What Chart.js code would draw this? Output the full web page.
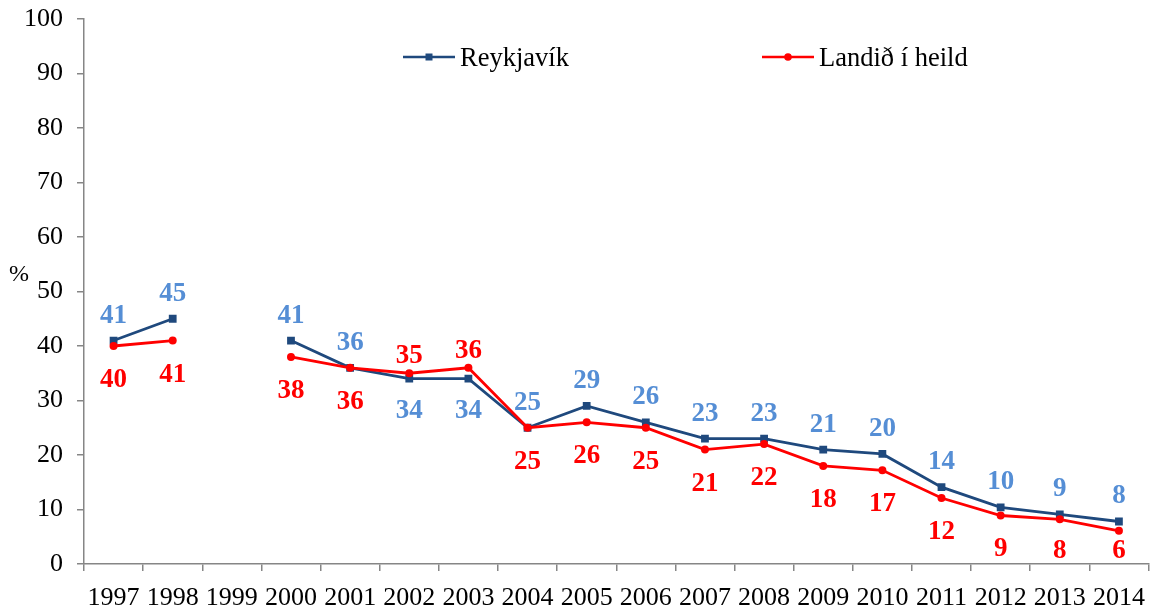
<!DOCTYPE html>
<html>
<head>
<meta charset="utf-8">
<script src="https://cdn.jsdelivr.net/npm/chart.js@4/dist/chart.umd.min.js"></script>
<style>
  html, body { margin: 0; padding: 0; background: #fff; }
  canvas { display: block; }
</style>
</head>
<body>
<canvas id="myChart" width="1154" height="607"></canvas>
<script>
  var years = ['1997', '1998', '1999', '2000', '2001', '2002', '2003', '2004', '2005',
               '2006', '2007', '2008', '2009', '2010', '2011', '2012', '2013', '2014'];
  var reykjavik = [41, 45, null, 41, 36, 34, 34, 25, 29, 26, 23, 23, 21, 20.2, 14.1, 10.4, 9.1, 7.8];
  var landid = [40, 41, null, 38, 36, 35, 36, 25, 26, 25, 21, 22, 18, 17.2, 12.1, 8.9, 8.2, 6.1];
  var yTicks = [0, 10, 20, 30, 40, 50, 60, 70, 80, 90, 100];

  var serif = "'Liberation Serif', 'Times New Roman', serif";
  var blue = '#1F497D', blueLabel = '#558ED5', red = '#FF0000', axisGrey = '#868686';

  // value labels, legend and the "%" caption
  var extras = {
    id: 'extras',
    afterDatasetsDraw: function(chart) {
      var ctx = chart.ctx, area = chart.chartArea;
      ctx.save();
      ctx.font = 'bold 27px ' + serif;
      ctx.textAlign = 'center';
      ctx.textBaseline = 'alphabetic';
      [0, 1].forEach(function(i) {
        var meta = chart.getDatasetMeta(i);
        var own = i === 0 ? reykjavik : landid;
        var other = i === 0 ? landid : reykjavik;
        meta.data.forEach(function(pt, j) {
          var v = own[j];
          if (v === null) return;
          var above = i === 0 ? v >= other[j] : v > other[j];
          var y;
          if (i === 0) y = above ? pt.y - 27 : pt.y + 30;
          else y = above ? pt.y - 19 : pt.y + 32;
          y = Math.min(y, area.bottom - 15);
          ctx.fillStyle = i === 0 ? blueLabel : red;
          ctx.fillText(String(Math.round(v)), pt.x, y + 9);
        });
      });

      // legend
      var items = [
        { text: 'Reykjavík', color: blue, style: 'rect', x: area.left + 319 },
        { text: 'Landið í heild', color: red, style: 'circle', x: area.left + 678 }
      ];
      var ly = area.top + 38;
      items.forEach(function(it) {
        ctx.strokeStyle = it.color;
        ctx.fillStyle = it.color;
        ctx.lineWidth = 2.5;
        ctx.beginPath();
        ctx.moveTo(it.x, ly);
        ctx.lineTo(it.x + 52, ly);
        ctx.stroke();
        ctx.beginPath();
        if (it.style === 'rect') ctx.rect(it.x + 26 - 3.5, ly - 3.5, 7, 7);
        else ctx.arc(it.x + 26, ly, 3.8, 0, Math.PI * 2);
        ctx.fill();
        ctx.fillStyle = '#000';
        ctx.font = '26.5px ' + serif;
        ctx.textAlign = 'left';
        ctx.fillText(it.text, it.x + 57, ly + 9);
      });

      // axis caption
      ctx.font = '24px ' + serif;
      ctx.textAlign = 'center';
      ctx.fillStyle = '#000';
      ctx.fillText('%', 19, 281);
      ctx.restore();
    }
  };

  var ctx = document.getElementById('myChart').getContext('2d');
  var myChart = new Chart(ctx, {
    type: 'line',
    data: {
      labels: years,
      datasets: [
        {
          label: 'Reykjavík',
          data: reykjavik,
          borderColor: blue,
          backgroundColor: blue,
          borderWidth: 2.8,
          pointStyle: 'rect',
          pointRadius: 5.5,
          pointBorderWidth: 0,
          tension: 0,
          order: 2
        },
        {
          label: 'Landið í heild',
          data: landid,
          borderColor: red,
          backgroundColor: red,
          borderWidth: 2.8,
          pointStyle: 'circle',
          pointRadius: 4,
          pointBorderWidth: 0,
          tension: 0,
          order: 1
        }
      ]
    },
    options: {
      responsive: false,
      animation: false,
      layout: { padding: { top: 19, right: 5, left: 0, bottom: 0 } },
      plugins: {
        legend: { display: false },
        tooltip: { enabled: false }
      },
      scales: {
        x: {
          offset: true,
          grid: { offset: true, drawOnChartArea: false, tickLength: 7, color: axisGrey, lineWidth: 1.5 },
          border: { color: axisGrey, width: 1.5 },
          ticks: { color: '#000', font: { family: serif, size: 26 }, padding: 12, maxRotation: 0, autoSkip: false },
          afterFit: function(scale) {
            scale.height = 43;
            scale.paddingLeft = 0;
            scale.paddingRight = 0;
          }
        },
        y: {
          min: 0,
          max: 100,
          afterBuildTicks: function(scale) {
            scale.ticks = yTicks.map(function(v) { return { value: v }; });
          },
          grid: { drawOnChartArea: false, tickLength: 7, color: axisGrey, lineWidth: 1.5 },
          border: { color: axisGrey, width: 1.5 },
          ticks: { color: '#000', font: { family: serif, size: 26 }, padding: 14 },
          afterFit: function(scale) {
            scale.width = 84;
            scale.paddingTop = 0;
            scale.paddingBottom = 0;
          }
        }
      }
    },
    plugins: [extras]
  });
</script>
</body>
</html>
